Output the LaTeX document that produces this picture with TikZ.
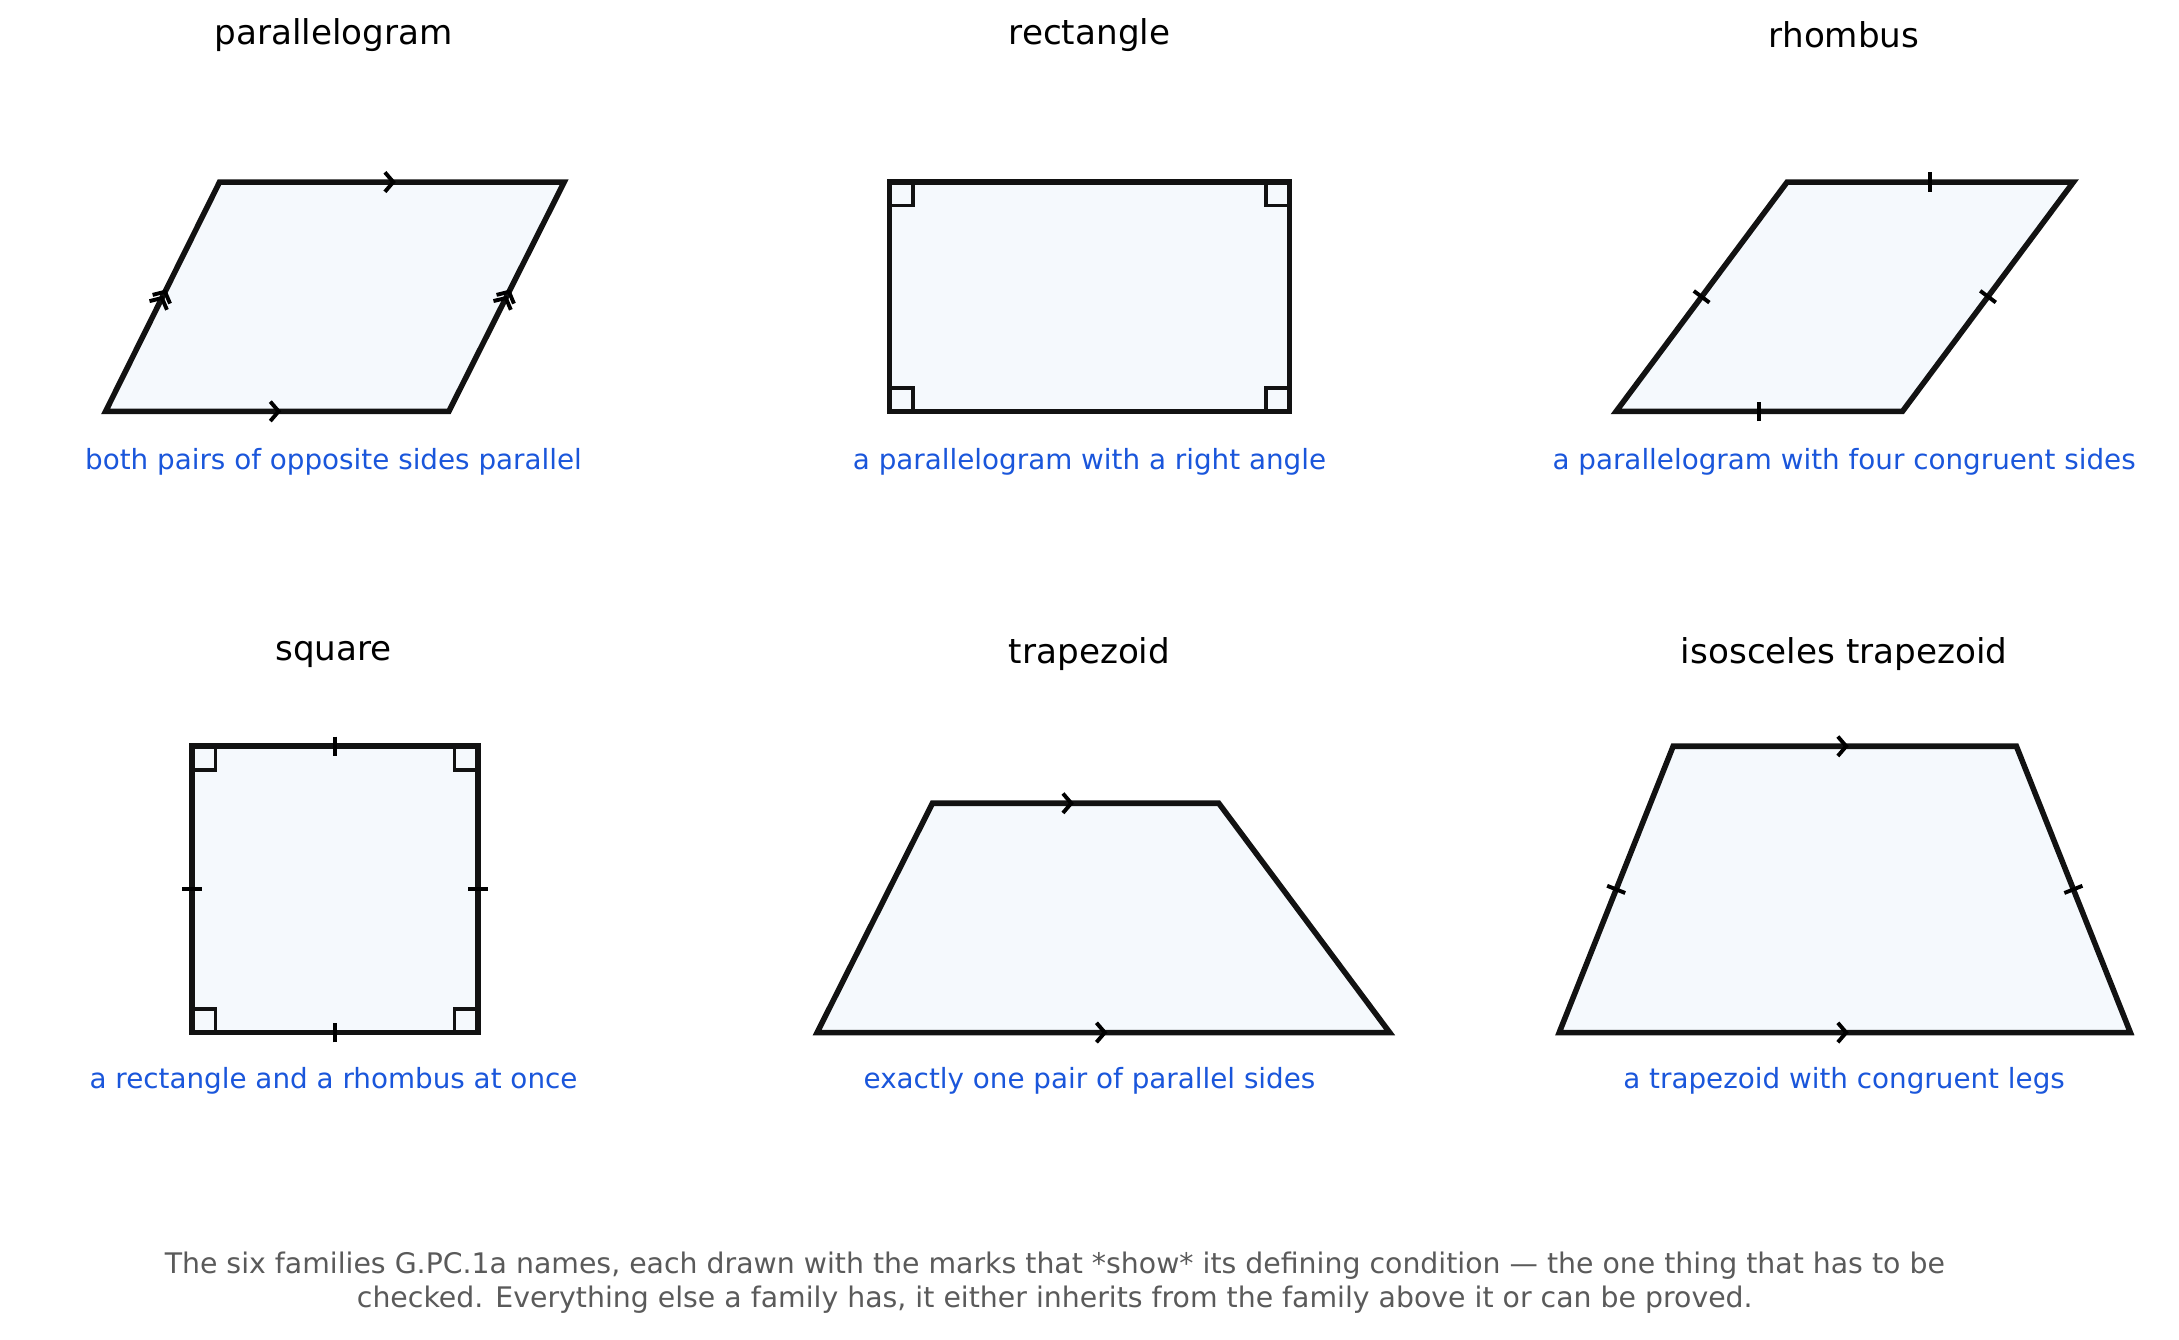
\documentclass[tikz,border=0pt]{standalone}
\usepackage{fontspec}
\setmainfont{DejaVu Sans}
\usetikzlibrary{decorations.markings}
\definecolor{fillc}{HTML}{F5F9FD}
\definecolor{bluec}{HTML}{1A56DB}
\definecolor{grayc}{HTML}{5A5A5A}
\begin{document}
\begin{tikzpicture}[x=0.5pt,y=-0.5pt,
  quad/.style={draw=black!93,line width=2pt,fill=fillc,line join=miter},
  title/.style={font=\fontsize{12.3pt}{14pt}\selectfont,text=black},
  desc/.style={font=\fontsize{10pt}{12pt}\selectfont,text=bluec},
  sq/.style={draw=black!93,line width=1.3pt},
  arr/.style={decorate,decoration={markings,mark=at position #1 with {\draw[line width=1.4pt] (-5,-7)--(1,0)--(-5,7);}}},
  arr/.default=0.5,
  darr/.style={decorate,decoration={markings,mark=at position 0.5 with {\draw[line width=1.4pt] (-7,-7)--(-1,0)--(-7,7) (-2,-7)--(4,0)--(-2,7);}}},
  tick/.style={decorate,decoration={markings,mark=at position 0.5 with {\draw[line width=1.4pt] (0,-7)--(0,7);}}}]
\useasboundingbox (0,0) rectangle (1568,964);

% parallelogram
\coordinate (pa) at (76,296); \coordinate (pb) at (158,131);
\coordinate (pc) at (406,131); \coordinate (pd) at (323,296);
\draw[quad] (pa)--(pb)--(pc)--(pd)--cycle;
\path[arr=0.5] (pb)--(pc);
\path[arr=0.5] (pa)--(pd);
\path[darr] (pa)--(pb);
\path[darr] (pd)--(pc);
\node[title] (t1) at (240,25) {parallelogram};
\node[desc] (d1) at (240,332) {both pairs of opposite sides parallel};

% rectangle
\draw[quad] (640,131) coordinate (ra) rectangle (928,296) coordinate (rb);
\draw[sq] (640,148)-|(657,131) (911,131)|-(928,148) (640,279)-|(657,296) (911,296)|-(928,279);
\node[title] (t2) at (784,25) {rectangle};
\node[desc] (d2) at (784,332) {a parallelogram with a right angle};

% rhombus
\coordinate (ha) at (1163,296); \coordinate (hb) at (1286,131);
\coordinate (hc) at (1492,131); \coordinate (hd) at (1369,296);
\draw[quad] (ha)--(hb)--(hc)--(hd)--cycle;
\path[tick] (ha)--(hb); \path[tick] (hb)--(hc); \path[tick] (hc)--(hd); \path[tick] (hd)--(ha);
\node[title] (t3) at (1327,25) {rhombus};
\node[desc] (d3) at (1327,332) {a parallelogram with four congruent sides};

% square
\coordinate (sa) at (138,743); \coordinate (sb) at (138,537);
\coordinate (sc) at (344,537); \coordinate (sd) at (344,743);
\draw[quad] (sa)--(sb)--(sc)--(sd)--cycle;
\draw[sq] (138,554)-|(155,537) (327,537)|-(344,554) (138,726)-|(155,743) (327,743)|-(344,726);
\path[tick] (sa)--(sb); \path[tick] (sb)--(sc); \path[tick] (sc)--(sd); \path[tick] (sd)--(sa);
\node[title] (t4) at (240,471) {square};
\node[desc] (d4) at (240,778) {a rectangle and a rhombus at once};

% trapezoid
\coordinate (ta) at (588,743); \coordinate (tb) at (671,578);
\coordinate (tc) at (877,578); \coordinate (td) at (1000,743);
\draw[quad] (ta)--(tb)--(tc)--(td)--cycle;
\path[arr=0.48] (tb)--(tc);
\path[arr=0.5] (ta)--(td);
\node[title] (t5) at (784,471) {trapezoid};
\node[desc] (d5) at (784,778) {exactly one pair of parallel sides};

% isosceles trapezoid
\coordinate (ia) at (1122,743); \coordinate (ib) at (1204,537);
\coordinate (ic) at (1451,537); \coordinate (id) at (1533,743);
\draw[quad] (ia)--(ib)--(ic)--(id)--cycle;
\path[arr=0.5] (ib)--(ic);
\path[arr=0.5] (ia)--(id);
\path[tick] (ia)--(ib); \path[tick] (ic)--(id);
\node[title] (t6) at (1327,471) {isosceles trapezoid};
\node[desc] (d6) at (1327,778) {a trapezoid with congruent legs};

\node[font=\fontsize{10.2pt}{12.5pt}\selectfont,text=grayc,align=center] (cap) at (759,923)
 {The six families G.PC.1a names, each drawn with the marks that *show* its defining condition — the one thing that has to be\\
  checked. Everything else a family has, it either inherits from the family above it or can be proved.};
\end{tikzpicture}
\end{document}
